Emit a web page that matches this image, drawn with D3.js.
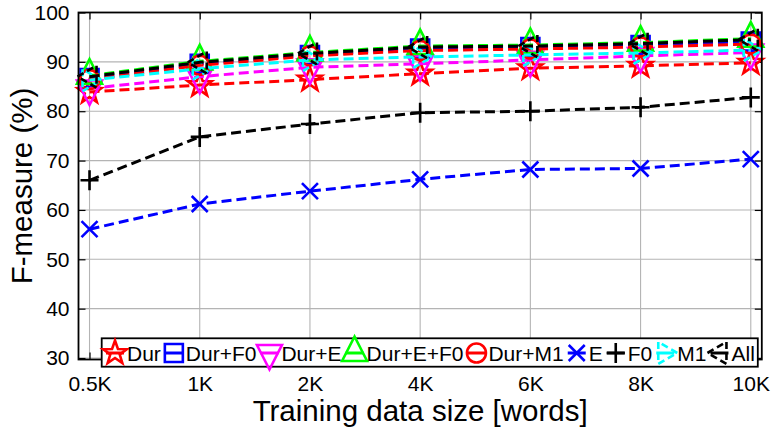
<!DOCTYPE html>
<html>
<head>
<meta charset="utf-8">
<script src="https://cdn.jsdelivr.net/npm/d3@7"></script>
<style>
  html, body { margin: 0; padding: 0; background: #fff; }
  svg { display: block; font-family: "Liberation Sans", Arial, sans-serif; }
</style>
</head>
<body>
<svg id="chart" width="772" height="429"></svg>
<script>
// Training data sizes on the x axis
const categories = ["0.5K", "1K", "2K", "4K", "6K", "8K", "10K"];
const yTickValues = [30, 40, 50, 60, 70, 80, 90, 100];

// F-measure (%) per feature set
const dur     = [83.9, 85.3, 86.4, 87.6, 88.7, 89.2, 89.8];
const durF0   = [86.7, 89.6, 91.4, 92.7, 93.0, 93.4, 94.1];
const durE    = [84.6, 87.0, 88.9, 89.6, 90.4, 91.2, 91.9];
const durEF0  = [87.2, 90.1, 91.9, 93.2, 93.4, 93.9, 94.7];
const durM1   = [86.4, 89.3, 91.2, 92.3, 92.6, 93.0, 93.6];
const eOnly   = [56.1, 61.2, 63.8, 66.2, 68.2, 68.4, 70.3];
const f0Only  = [66.0, 74.8, 77.4, 79.7, 80.0, 80.8, 82.8];
const m1Only  = [86.3, 88.6, 90.4, 91.0, 91.4, 91.8, 92.4];
const allFeat = [87.0, 89.9, 91.7, 93.0, 93.2, 93.7, 94.5];

const seriesNames = ["Dur", "Dur+F0", "Dur+E", "Dur+E+F0", "Dur+M1", "E", "F0", "M1", "All"];
const seriesValues = [dur, durF0, durE, durEF0, durM1, eOnly, f0Only, m1Only, allFeat];

// Drawing styles, one per series
const seriesColors = ["#ff0000", "#0000ff", "#ff00ff", "#00ff00", "#ff0000", "#0000ff", "#000000", "#00ffff", "#000000"];
const seriesMarkers = ["star", "square", "tridown", "triup", "circle", "cross", "plus", "triright", "trileft"];
const dashedMarker = [false, false, false, false, false, false, false, true, true];

const svg = d3.select("#chart");
const plot = { left: 78.5, right: 761.8, top: 12.5, bottom: 359.5 };

const x = d3.scaleLinear().domain([-0.1, 6.1]).range([plot.left, plot.right]);
const y = d3.scaleLinear().domain([29.7, 100]).range([plot.bottom, plot.top]);

function markerPath(type) {
  const p = d3.path();
  if (type === "star") {
    const R = 12.5, r = 5;
    for (let i = 0; i < 10; i++) {
      const a = -Math.PI / 2 + i * Math.PI / 5;
      const rr = i % 2 === 0 ? R : r;
      if (i === 0) p.moveTo(rr * Math.cos(a), rr * Math.sin(a));
      else p.lineTo(rr * Math.cos(a), rr * Math.sin(a));
    }
    p.closePath();
  } else if (type === "square") {
    p.rect(-9, -9, 18, 18);
  } else if (type === "circle") {
    p.moveTo(9.5, 0); p.arc(0, 0, 9.5, 0, 2 * Math.PI);
  } else if (type === "triup") {
    p.moveTo(0, -16.5); p.lineTo(12.5, 8); p.lineTo(-12.5, 8); p.closePath();
  } else if (type === "tridown") {
    p.moveTo(0, 16.5); p.lineTo(12.5, -8); p.lineTo(-12.5, -8); p.closePath();
  } else if (type === "triright") {
    p.moveTo(12, 0); p.lineTo(-7, -11); p.lineTo(-7, 11); p.closePath();
  } else if (type === "trileft") {
    p.moveTo(-12, 0); p.lineTo(7, -11); p.lineTo(7, 11); p.closePath();
  } else if (type === "cross") {
    p.moveTo(-8, -8); p.lineTo(8, 8); p.moveTo(-8, 8); p.lineTo(8, -8);
  } else if (type === "plus") {
    p.moveTo(-9, 0); p.lineTo(9, 0); p.moveTo(0, -10); p.lineTo(0, 10);
  }
  return p.toString();
}

// Grid
const grid = svg.append("g").attr("stroke", "#b4b4b4").attr("stroke-width", 1.1);
grid.selectAll("line.gx").data(d3.range(categories.length)).join("line")
  .attr("x1", d => x(d)).attr("x2", d => x(d))
  .attr("y1", plot.top).attr("y2", plot.bottom);
grid.selectAll("line.gy").data(yTickValues).join("line")
  .attr("x1", plot.left).attr("x2", plot.right)
  .attr("y1", d => y(d)).attr("y2", d => y(d));

// Axes (ticks point inward, on all four sides)
const tickLen = 7;
const fontTick = "21px";
const xAxisB = d3.axisBottom(x).tickValues(d3.range(categories.length))
  .tickFormat(i => categories[i]).tickSizeInner(-tickLen).tickSizeOuter(0).tickPadding(tickLen + 10);
const xAxisT = d3.axisTop(x).tickValues(d3.range(categories.length))
  .tickSizeInner(-tickLen).tickSizeOuter(0);
const yAxisL = d3.axisLeft(y).tickValues(yTickValues).tickSizeInner(-tickLen).tickSizeOuter(0).tickPadding(tickLen + 2);
const yAxisR = d3.axisRight(y).tickValues(yTickValues).tickSizeInner(-tickLen).tickSizeOuter(0);

function styleAxis(g, showLabels) {
  g.select(".domain").remove();
  g.selectAll(".tick line").attr("stroke", "#000").attr("stroke-width", 1.2);
  if (!showLabels) { g.selectAll(".tick text").remove(); return; }
  g.selectAll(".tick text").attr("fill", "#000").style("font-size", fontTick)
    .style("font-family", "'Liberation Sans', Arial, sans-serif");
}
svg.append("g").attr("transform", `translate(0,${plot.bottom})`).call(xAxisB).call(styleAxis, true);
svg.append("g").attr("transform", `translate(0,${plot.top})`).call(xAxisT).call(styleAxis, false);
svg.append("g").attr("transform", `translate(${plot.left},0)`).call(yAxisL).call(styleAxis, true);
svg.append("g").attr("transform", `translate(${plot.right},0)`).call(yAxisR).call(styleAxis, false);

// Series: dashed line then its markers
const line = d3.line().x((d, i) => x(i)).y(d => y(d));
const dash = "10,5";
seriesValues.forEach((vals, k) => {
  const g = svg.append("g");
  g.append("path").datum(vals).attr("d", line)
    .attr("fill", "none").attr("stroke", seriesColors[k])
    .attr("stroke-width", 3).attr("stroke-dasharray", dash);
  g.selectAll("path.m").data(vals).join("path").attr("class", "m")
    .attr("d", markerPath(seriesMarkers[k]))
    .attr("transform", (d, i) => `translate(${x(i)},${y(d)})`)
    .attr("fill", "none").attr("stroke", seriesColors[k]).attr("stroke-width", 2.6)
    .attr("stroke-linejoin", "miter")
    .attr("stroke-dasharray", dashedMarker[k] ? "7,4" : null);
});

// Axes box
svg.append("rect").attr("x", plot.left).attr("y", plot.top)
  .attr("width", plot.right - plot.left).attr("height", plot.bottom - plot.top)
  .attr("fill", "none").attr("stroke", "#000").attr("stroke-width", 1.8);

// Legend
const leg = svg.append("g");
const legBox = leg.append("rect").attr("fill", "#fff").attr("stroke", "#000").attr("stroke-width", 1.8);
const legY = 353;
let cursor = 102;
seriesNames.forEach((name, k) => {
  const mx = cursor + 13;
  leg.append("line").attr("x1", mx - 9).attr("x2", mx + 9).attr("y1", legY).attr("y2", legY)
    .attr("stroke", seriesColors[k]).attr("stroke-width", 3);
  leg.append("path").attr("d", markerPath(seriesMarkers[k]))
    .attr("transform", `translate(${mx},${legY})`)
    .attr("fill", "none").attr("stroke", seriesColors[k]).attr("stroke-width", 2.6)
    .attr("stroke-dasharray", dashedMarker[k] ? "7,4" : null);
  const t = leg.append("text").attr("x", mx + 12).attr("y", legY + 7.5)
    .style("font-size", "21px").attr("fill", "#000").text(name);
  cursor = mx + 12 + t.node().getComputedTextLength();
});
legBox.attr("x", 101.7).attr("y", 338.3).attr("width", cursor + 3 - 101.7).attr("height", 28.4);

// Axis titles
svg.append("text").attr("x", (plot.left + plot.right) / 2).attr("y", 421)
  .attr("text-anchor", "middle").style("font-size", "29.5px").attr("fill", "#000")
  .text("Training data size [words]");
svg.append("text").attr("transform", `translate(32,${(plot.top + plot.bottom) / 2}) rotate(-90)`)
  .attr("text-anchor", "middle").style("font-size", "29.5px").attr("fill", "#000")
  .text("F-measure (%)");
</script>
</body>
</html>
